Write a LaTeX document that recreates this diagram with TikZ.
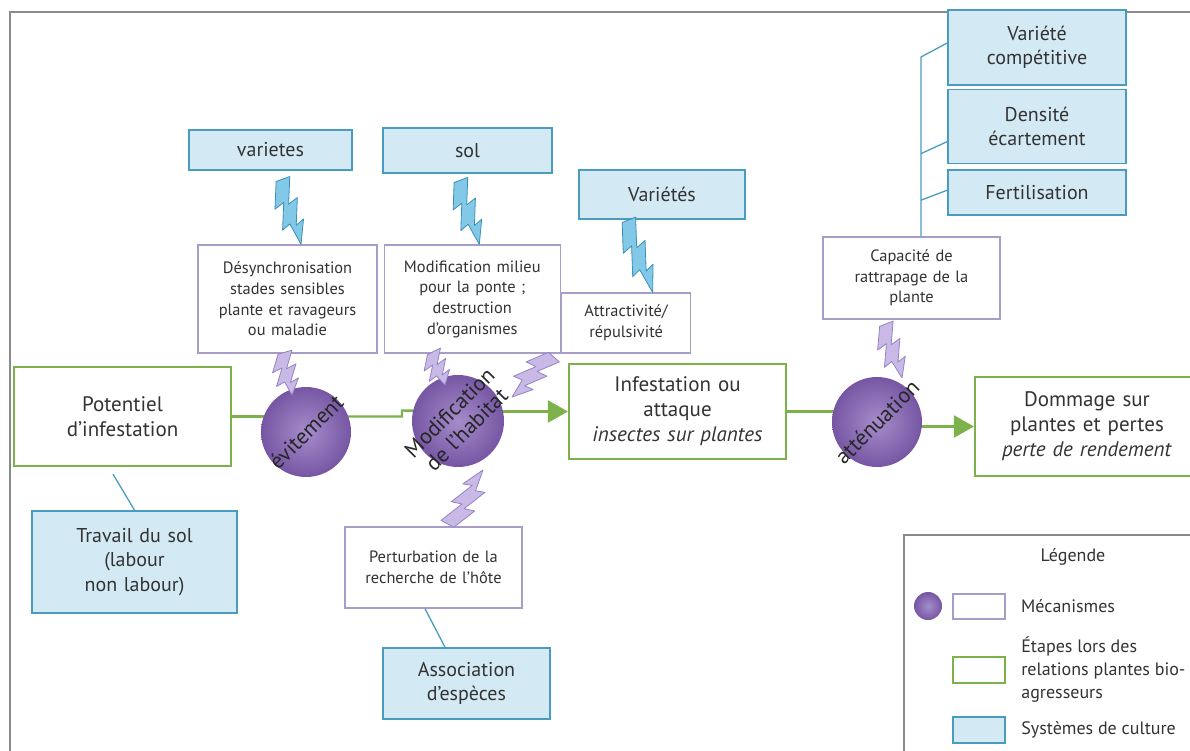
\documentclass[tikz,border=0pt]{standalone}
\usepackage{fontspec}
\setmainfont{PT Sans}
\usepackage{xcolor}
\usetikzlibrary{arrows.meta,positioning,calc,backgrounds}
\definecolor{systfill}{HTML}{D3EAF4}
\definecolor{systline}{HTML}{4A9CBF}
\definecolor{mechline}{HTML}{A89CC8}
\definecolor{stepgreen}{HTML}{7DB24A}
\definecolor{mechin}{HTML}{A68CCB}
\definecolor{mechout}{HTML}{7656A3}
\definecolor{boltMfill}{HTML}{C9B9E7}
\definecolor{boltMline}{HTML}{9682C4}
\definecolor{boltSfill}{HTML}{82C9E8}
\definecolor{boltSline}{HTML}{3A8FB8}
\definecolor{framegray}{HTML}{8A8A8A}
\definecolor{txt}{HTML}{333333}
\newcommand{\stepfont}{\fontsize{21}{25}\selectfont}
\newcommand{\mechfont}{\fontsize{16.4}{20.7}\selectfont}
\newcommand{\systfont}{\fontsize{20}{24.5}\selectfont}
\newcommand{\circfont}{\fontsize{22}{24}\selectfont}
\newcommand{\legfont}{\fontsize{18}{23}\selectfont}

\begin{document}
\begin{tikzpicture}[
  x=1pt, y=-1pt,
  sz/.style 2 args={
    minimum width=#1pt,
    minimum height=#2pt,
    text width=#1pt
  },
  syst/.style={
    draw=systline,
    fill=systfill,
    line width=1.6pt,
    inner sep=0pt,
    align=center,
    text=txt,
    font=\systfont
  },
  mech/.style={
    draw=mechline,
    fill=white,
    line width=1.3pt,
    inner sep=0pt,
    align=center,
    text=txt,
    font=\mechfont
  },
  etape/.style={
    draw=stepgreen,
    fill=white,
    line width=2.2pt,
    inner sep=0pt,
    align=center,
    text=txt,
    font=\stepfont
  },
  mecha/.style={
    circle,
    minimum size=90pt,
    inner sep=0pt,
    shading=radial,
    inner color=mechin,
    outer color=mechout
  },
  circlbl/.style={
    rotate=45,
    align=center,
    text=black!85,
    font=\circfont
  },
  legtext/.style={
    align=left,
    text=txt,
    font=\legfont
  },
  flow/.style={
    draw=stepgreen,
    line width=2.4pt
  },
  flowarrow/.style={
    flow,
    -{Triangle[length=20pt,width=22pt]}
  },
  link/.style={
    draw=systline,
    line width=1.3pt
  },
  bolt/.style={
    line width=0.8pt,
    line join=round,
    to path={
      ($(\tikztostart)!0!(\tikztotarget)!12.5pt!90:(\tikztotarget)$)
      -- ($(\tikztostart)!0.38!(\tikztotarget)!2pt!90:(\tikztotarget)$)
      -- ($(\tikztostart)!0.33!(\tikztotarget)!12.5pt!90:(\tikztotarget)$)
      -- ($(\tikztostart)!0.71!(\tikztotarget)!2pt!90:(\tikztotarget)$)
      -- ($(\tikztostart)!0.66!(\tikztotarget)!11pt!90:(\tikztotarget)$)
      -- (\tikztotarget)
      -- ($(\tikztostart)!0.66!(\tikztotarget)!3.5pt!-90:(\tikztotarget)$)
      -- ($(\tikztostart)!0.71!(\tikztotarget)!12.5pt!-90:(\tikztotarget)$)
      -- ($(\tikztostart)!0.33!(\tikztotarget)!2pt!-90:(\tikztotarget)$)
      -- ($(\tikztostart)!0.38!(\tikztotarget)!12.5pt!-90:(\tikztotarget)$)
      -- ($(\tikztostart)!0!(\tikztotarget)!2pt!-90:(\tikztotarget)$)
      -- cycle}
  },
  boltS/.style={bolt, draw=boltSline, fill=boltSfill},
  boltM/.style={bolt, draw=boltMline, fill=boltMfill}
]
\useasboundingbox (0,0) rectangle (1190,751);
\draw[framegray, line width=2.5pt] (10,760) -- (10,12) -- (1200,12);

\node[syst, sz={163}{40}] (varietes) at (270.5,150) {varietes};
\node[syst, sz={169}{45}] (sol) at (467.5,150.5) {sol};
\node[syst, sz={166}{49}] (varietes2) at (662,194.5) {Variétés};
\node[syst, sz={178}{75}] (compet) at (1037,47.5) {Variété\\compétitive};
\node[syst, sz={178}{74}, below=3pt of compet] (densite) {Densité\\écartement};
\node[syst, sz={178}{45}, below=5pt of densite] (fertil) {Fertilisation};

\node[mech, sz={177}{82}] (capacite) at (911.5,278) {Capacité de\\rattrapage de la\\plante};
\node[mech, sz={179}{108}] (desync) at (287.5,299) {Désynchronisation\\stades sensibles\\plante et ravageurs\\ou maladie};
\node[mech, sz={176}{108}, right=6pt of desync] (modmilieu) {Modification milieu\\pour la ponte ;\\destruction\\d’organismes};
\node[mech, sz={129}{60}, anchor=south west] (attract) at (modmilieu.south east) {Attractivité/\\répulsivité};
\node[mech, sz={177}{81}] (perturb) at (433.5,567.5) {Perturbation de la\\recherche de l’hôte};

\node[etape, sz={217}{99}] (potentiel) at (122.5,416.5) {Potentiel\\d’infestation};
\node[etape, sz={217}{95}] (infest) at (677.5,411.5) {Infestation ou\\attaque\\\textit{insectes sur plantes}};
\node[etape, sz={224}{99}] (dommage) at (1087,426.5) {Dommage sur\\plantes et pertes\\\textit{perte de rendement}};

\node[syst, sz={205}{102}] (travail) at (134.5,562) {Travail du sol\\(labour\\non labour)};
\node[syst, sz={167}{71}] (assoc) at (466.5,683.5) {Association\\d’espèces};

\node[mecha] (evit) at (306,432) {};
\node[mecha, minimum size=92pt] (modhab) at (458,421) {};
\node[mecha] (attenu) at (877,422) {};
\node[circlbl] (evitlbl) at (evit) {évitement};
\node[circlbl] (modhablbl) at (modhab) {Modification\\de l’habitat};
\node[circlbl] (attenulbl) at (attenu) {atténuation};

\begin{scope}[on background layer]
\draw[flow] (potentiel.east) -- (potentiel.east -| evit.center);
\draw[flow] (evit.center |- potentiel.east) -- ++(96,0) -- ++(0,-6) -- (modhab.center |- infest.west);
\draw[flowarrow] (modhab.center |- infest.west) -- (infest.west);
\draw[flow] (infest.east) -- (infest.east -| attenu.center);
\draw[flowarrow] (attenu.center |- dommage.west) -- (dommage.west);
\end{scope}

\draw[link] ([shift={(-9.5,7)}]potentiel.south) -- (travail.north);
\draw[link] ([xshift=-8.5pt]perturb.south) -- ([xshift=-21.5pt]assoc.north);
\coordinate (trunk) at ([xshift=9.5pt]capacite.north);
\draw[link] (trunk) -- ([yshift=-9.5pt]trunk |- compet.west) -- ([yshift=4.5pt]compet.west);
\draw[link] ([yshift=-27pt]trunk |- densite.west) -- ([yshift=-15pt]densite.west);
\draw[link] ([yshift=-7.5pt]trunk |- fertil.west) -- ([yshift=2.5pt]fertil.west);

\draw[boltS] ([shift={(7.5,10)}]varietes.south) to ([xshift=13.5pt]desync.north);
\draw[boltS] ([shift={(-11.5,8)}]sol.south) to ([xshift=7pt]modmilieu.north);
\draw[boltS] ([shift={(-38,2)}]varietes2.south) to ([xshift=26.5pt]attract.north);
\draw[boltM] ([xshift=-7.5pt]desync.south) to ([shift={(-14,-37)}]evit.center);
\draw[boltM] ([xshift=-43pt]modmilieu.south) to ([shift={(-13,-36)}]modhab.center);
\draw[boltM] ([xshift=-11pt]attract.south west) to ([shift={(54,-24)}]modhab.center);
\draw[boltM] ([xshift=18.5pt]perturb.north) to ([shift={(25,49)}]modhab.center);
\draw[boltM] ([shift={(-30,6)}]capacite.south) to ([shift={(25,-44)}]attenu.center);

\draw[framegray, line width=1.5pt] (904,535) rectangle (1200,760);
\node[legtext] (legtitle) at (1073,557) {Légende};
\node[mecha, minimum size=28pt] (legcirc) at (928,606) {};
\node[mech, sz={52}{25}] (legmech) at (979,606.5) {};
\node[etape, sz={52}{26}, line width=1.6pt] (legstep) at (979,670) {};
\node[syst, sz={52}{26}] (legsyst) at (979,730) {};
\node[legtext, right=12pt of legmech] (legmechtxt) {Mécanismes};
\node[legtext, right=12pt of legstep] (legsteptxt) {Étapes lors des\\relations plantes bio-\\agresseurs};
\node[legtext, right=12pt of legsyst] (legsysttxt) {Systèmes de culture};
\end{tikzpicture}
\end{document}
